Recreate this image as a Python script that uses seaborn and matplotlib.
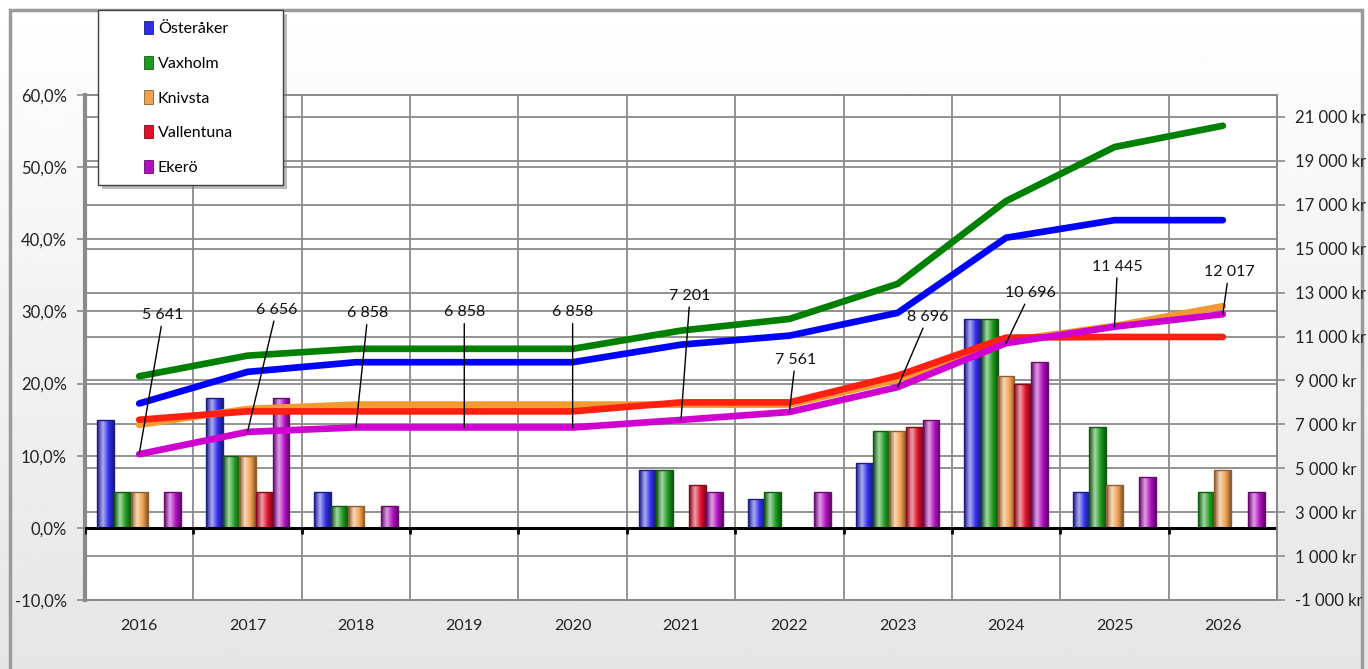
import numpy as np
import pandas as pd
import matplotlib
matplotlib.use('Agg')
import matplotlib.pyplot as plt
import matplotlib.colors as mcolors
import matplotlib.transforms as mtransforms
from matplotlib.patches import Rectangle
from matplotlib.ticker import FuncFormatter, MultipleLocator
import seaborn as sns

# ---- data ----
years = ['2016', '2017', '2018', '2019', '2020', '2021', '2022', '2023', '2024', '2025', '2026']
kommuner = ['Österåker', 'Vaxholm', 'Knivsta', 'Vallentuna', 'Ekerö']

# yearly increase, % (bars, left axis)
pct_osteraker = [15, 18, 5, 0, 0, 8, 4, 9, 29, 5, 0]
pct_vaxholm = [5, 10, 3, 0, 0, 8, 5, 13.4, 29, 14, 5]
pct_knivsta = [5, 10, 3, 0, 0, 0, 0, 13.4, 21, 6, 8]
pct_vallentuna = [0, 5, 0, 0, 0, 6, 0, 14, 20, 0, 0]
pct_ekero = [5, 18, 3, 0, 0, 5, 5, 15, 23, 7, 5]

# fee in kr (lines, right axis)
kr_osteraker = [7950, 9390, 9830, 9830, 9830, 10630, 11040, 12080, 15500, 16300, 16300]
kr_vaxholm = [9190, 10130, 10440, 10440, 10440, 11270, 11800, 13400, 17170, 19630, 20600]
kr_knivsta = [6980, 7700, 7900, 7900, 7900, 7900, 7900, 9040, 10800, 11480, 12380]
kr_vallentuna = [7210, 7590, 7590, 7590, 7590, 8000, 8000, 9220, 10950, 10980, 10980]
kr_ekero = [5641, 6656, 6858, 6858, 6858, 7201, 7561, 8696, 10696, 11445, 12017]

bar_colors = ['#2f2fe8', '#1e9a1e', '#f0a050', '#e0102a', '#b010c0']
line_colors = ['#0000ff', '#008000', '#f09a30', '#ff2010', '#d000d0']

pct_df = pd.DataFrame({'year': years * 5,
                       'kommun': np.repeat(kommuner, len(years)),
                       'pct': pct_osteraker + pct_vaxholm + pct_knivsta + pct_vallentuna + pct_ekero})
kr_df = pd.DataFrame({'year': years * 5,
                      'kommun': np.repeat(kommuner, len(years)),
                      'kr': kr_osteraker + kr_vaxholm + kr_knivsta + kr_vallentuna + kr_ekero})

plt.rcParams['font.family'] = ['Lato', 'DejaVu Sans']

fig = plt.figure(figsize=(13.68, 6.69), dpi=100)

# background gradient + frame
bg = fig.add_axes([0, 0, 1, 1], zorder=-10)
grad = np.linspace(1.0, 0.9, 256).reshape(-1, 1)
bg.imshow(grad, cmap='gray', vmin=0, vmax=1, aspect='auto', extent=(0, 1, 0, 1))
bg.set_xlim(0, 1)
bg.set_ylim(0, 1)
bg.axis('off')
bg.add_patch(Rectangle((10 / 1368, -0.01), 1352 / 1368, 1 - 10 / 669 + 0.01,
                       fill=False, edgecolor='#9a9a9a', lw=2.5))

ax = fig.add_axes([85 / 1368, 1 - 600 / 669, (1277 - 85) / 1368, (600 - 95) / 669])
ax.set_facecolor('white')

sns.barplot(data=pct_df, x='year', y='pct', hue='kommun', hue_order=kommuner,
            palette=bar_colors, width=0.77, gap=0, ax=ax, legend=True,
            edgecolor='#303030', linewidth=0.6, saturation=1, zorder=3)

ax.set_ylim(-10, 60)
ax.set_xlim(-0.5, len(years) - 0.5)


def cylinder(base):
    # dark edge -> highlight -> base colour -> dark edge
    light = base + (1 - base) * 0.6
    dark = base * 0.55
    cols = []
    for t in np.linspace(0, 1, 64):
        if t < 0.35:
            c = dark + (light - dark) * (t / 0.35)
        elif t < 0.7:
            c = light + (base - light) * ((t - 0.35) / 0.35)
        else:
            c = base + (dark - base) * ((t - 0.7) / 0.3)
        cols.append(c)
    return np.array(cols).reshape(1, -1, 3)


# 3D-ish gradient on bars
for p in list(ax.patches):
    h = p.get_height()
    if not np.isfinite(h) or h <= 0:
        continue
    base = np.array(mcolors.to_rgb(p.get_facecolor()))
    x0 = p.get_x()
    im = ax.imshow(cylinder(base), extent=(x0, x0 + p.get_width(), p.get_y(), p.get_y() + h),
                   aspect='auto', zorder=3.1, interpolation='bilinear')
    im.set_clip_path(p)
    p.set_edgecolor(mcolors.to_hex(base * 0.6))
    p.set_linewidth(1.0)
    p.set_zorder(3.2)
    p.set_facecolor('none')

ax.set_ylim(-10, 60)
ax.set_xlim(-0.5, len(years) - 0.5)

# legend in its own shadowed box
handles, labels = ax.get_legend_handles_labels()
ax.get_legend().remove()
fig.patches.append(Rectangle((102 / 1368, 1 - 189 / 669), 185 / 1368, 175 / 669,
                             transform=fig.transFigure, facecolor='#7a7a7a', alpha=0.5,
                             edgecolor='none', zorder=5))
fig.patches.append(Rectangle((98 / 1368, 1 - 185 / 669), 185 / 1368, 175 / 669,
                             transform=fig.transFigure, facecolor='white',
                             edgecolor='#404040', lw=1, zorder=6))
for hnd, c in zip(handles, bar_colors):
    hnd.set_facecolor(c)
    hnd.set_edgecolor(mcolors.to_hex(np.array(mcolors.to_rgb(c)) * 0.6))
leg = fig.legend(handles, labels, loc='upper left', bbox_to_anchor=(133 / 1368, 1 - 10 / 669),
                 frameon=False, fontsize=11.5, handlelength=0.55, handleheight=0.9,
                 handletextpad=0.3, labelspacing=1.22, borderpad=0.2)
leg.set_zorder(7)

# twin axis with fee lines
ax2 = ax.twinx()
sns.pointplot(data=kr_df, x='year', y='kr', hue='kommun', hue_order=kommuner,
              palette=line_colors, markers='', linestyles='-', errorbar=None,
              linewidth=4.8, legend=False, ax=ax2)
ax2.set_ylim(-1000, 22000)
ax2.set_xlim(-0.5, len(years) - 0.5)
for ln in ax2.lines:
    ln.set_solid_capstyle('round')
    ln.set_solid_joinstyle('round')
ax2.set_xlabel('')
ax2.set_ylabel('')

# gridlines (both scales) behind bars
ax.yaxis.set_major_locator(MultipleLocator(10))
ax.grid(axis='y', color='#8a8a8a', lw=1.3, zorder=0)
ax.set_xticks(np.arange(-0.5, len(years)), minor=True)
ax.grid(axis='x', which='minor', color='#8a8a8a', lw=1.3, zorder=0)
ax.grid(axis='x', which='major', visible=False)
ax.set_axisbelow(True)
ax2.set_yticks(np.arange(-1000, 21001, 2000))
blend = mtransforms.blended_transform_factory(ax.transAxes, ax2.transData)
for t in ax2.get_yticks():
    ax.plot([0, 1], [t, t], transform=blend, color='#8a8a8a', lw=1.3, zorder=0.5, clip_on=False)
ax.axhline(0, color='black', lw=2.2, zorder=4)
ax.vlines(np.arange(-0.5, len(years)), -0.9, 0, color='black', lw=2, zorder=4)

# tick formatting
ax.yaxis.set_major_formatter(FuncFormatter(lambda v, _: f'{v:.1f}%'.replace('.', ',')))
ax2.yaxis.set_major_formatter(FuncFormatter(lambda v, _: f'{v:,.0f} kr'.replace(',', ' ')))
ax.tick_params(axis='y', length=6, width=1.2, color='#8a8a8a', labelsize=12, pad=7, labelcolor='#222222')
ax2.tick_params(axis='y', length=6, width=1.2, color='#8a8a8a', labelsize=12, pad=7, labelcolor='#222222')
ax.tick_params(axis='x', which='both', length=0, labelsize=11.5, pad=14, labelcolor='#222222')
ax.set_xlabel('')
ax.set_ylabel('')

for a in (ax, ax2):
    for s in a.spines.values():
        s.set_color('#8a8a8a')
        s.set_linewidth(1.3)
ax.spines['left'].set_linewidth(3)
ax2.spines['left'].set_visible(False)

# value labels for Ekerö
offsets = [(24, 139), (29, 122), (12, 114), (0, 115), (0, 115), (9, 124),
           (6, 52), (30, 70), (24, 50), (3, 60), (6, 42)]
for i, (v, off) in enumerate(zip(kr_ekero, offsets)):
    ax2.annotate(f'{v:,}'.replace(',', ' '), xy=(i, v), xytext=off, textcoords='offset pixels',
                 ha='center', va='center', fontsize=11.5, color='#111111',
                 arrowprops=dict(arrowstyle='-', color='black', lw=1, shrinkA=1, shrinkB=0),
                 zorder=10)

fig.savefig('out.png', dpi=100)
